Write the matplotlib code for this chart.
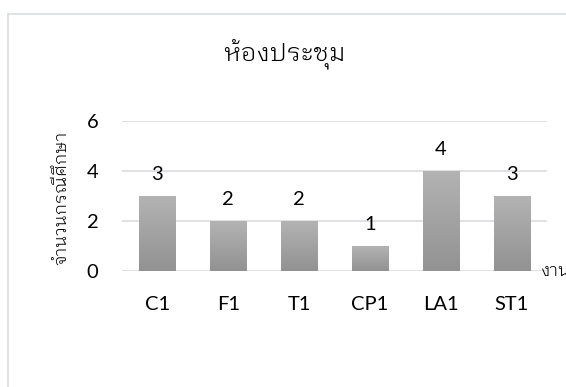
import matplotlib
matplotlib.use("Agg")
import matplotlib.pyplot as plt
import numpy as np
from matplotlib.lines import Line2D

categories = ["C1", "F1", "T1", "CP1", "LA1", "ST1"]
counts = [3, 2, 2, 1, 4, 3]
y_ticks = [0, 2, 4, 6]
title = "ห้องประชุม"
y_label = "จำนวนกรณีศึกษา"
x_label = "งาน"

THAI = ["IBM Plex Sans Thai Looped", "DejaVu Sans"]
LATIN = ["Lato", "IBM Plex Sans Thai Looped", "DejaVu Sans"]
GRID = "#d9dbdf"
TEXT = "#000000"

W, H = 566, 387
fig = plt.figure(figsize=(W / 100, H / 100), dpi=100)

# chart-area border (top and left edges visible)
fig.add_artist(Line2D([8 / W, 1.0], [1 - 14 / H, 1 - 14 / H], color="#d9dde4", lw=1.2))
fig.add_artist(Line2D([8 / W, 8 / W], [1 - 14 / H, 0.0], color="#d9dde4", lw=1.2))

ax = fig.add_axes([122 / W, 1 - 271 / H, 425 / W, 150 / H])
x = np.arange(len(categories))

for s in ax.spines.values():
    s.set_visible(False)
ax.set_yticks(y_ticks)
ax.yaxis.grid(True, color=GRID, lw=1.2)
ax.set_axisbelow(True)
ax.tick_params(axis="both", length=0, labelsize=14.5, colors=TEXT)
ax.tick_params(axis="y", pad=17)
ax.tick_params(axis="x", pad=18)
ax.set_xticks(x)
ax.set_xticklabels(categories)
for lab in ax.get_xticklabels() + ax.get_yticklabels():
    lab.set_family(LATIN)

# bars with a vertical grey gradient
bar_w = 0.51
grad = np.linspace(0, 1, 256).reshape(-1, 1)
cmap = matplotlib.colors.LinearSegmentedColormap.from_list("g", ["#929292", "#b3b3b3"])
bars = ax.bar(x, counts, width=bar_w, color="none", edgecolor="none", zorder=2)
for b, v in zip(bars, counts):
    x0, w = b.get_x(), b.get_width()
    im = ax.imshow(grad, extent=[x0, x0 + w, 0, v], origin="lower", aspect="auto",
                   cmap=cmap, zorder=2)
    im.set_clip_path(b)
    ax.annotate(str(v), (x0 + w / 2, v), xytext=(0, 9.5), textcoords="offset points",
                ha="center", va="bottom", fontsize=14.5, color=TEXT, family=LATIN)
ax.set_xlim(-0.5, len(categories) - 0.5)
ax.set_ylim(0, 6)

fig.text(284 / W, 1 - 55 / H, title, ha="center", va="center", fontsize=18,
         family=THAI, weight=300, color=TEXT)
fig.text(61 / W, 1 - 198 / H, y_label, rotation=90, ha="center", va="center",
         fontsize=12.5, family=THAI, weight=300, color=TEXT)
fig.text(540 / W, 1 - 271 / H, x_label, ha="left", va="center", fontsize=12.5,
         family=THAI, weight=300, color=TEXT)

fig.savefig("out.png", dpi=100)
